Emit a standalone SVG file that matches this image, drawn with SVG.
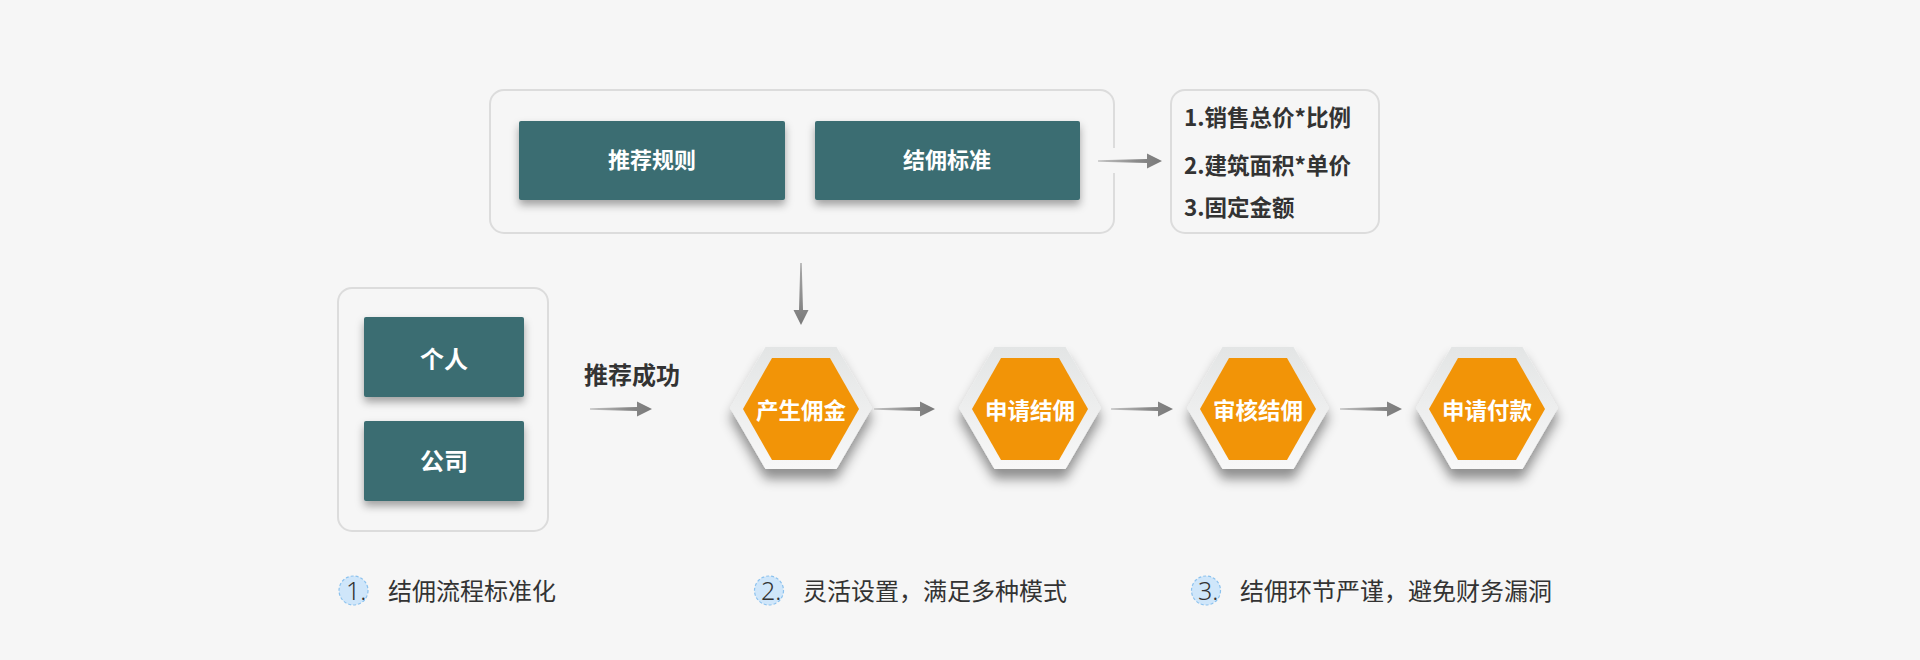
<svg xmlns="http://www.w3.org/2000/svg" width="1920" height="660" viewBox="0 0 1920 660">
<defs>
<style>
.frame{fill:none;stroke:#DCDCDC;stroke-width:2}
.teal{fill:#3A6D72}
.tlabel{font-family:"Noto Sans CJK SC","Liberation Sans",sans-serif;font-weight:bold;fill:#FFFFFF;text-anchor:middle}
.dark{font-family:"Noto Sans CJK SC","Liberation Sans",sans-serif;font-weight:bold;fill:#333333}
.note{font-family:"Noto Sans CJK SC","Liberation Sans",sans-serif;font-size:24px;fill:#333333}
.num{font-family:"Noto Sans","Liberation Sans",sans-serif;font-weight:300;font-size:25px;fill:#333333}
.badge{fill:#CFE6FA;stroke:#8CC2EE;stroke-width:1.2;stroke-dasharray:3 2}
.arrow{fill:url(#ag)}
.arrowv{fill:url(#agv)}
</style>
<linearGradient id="ag" x1="0" y1="0" x2="1" y2="0">
<stop offset="0" stop-color="#C4C4C4"/>
<stop offset="0.6" stop-color="#8A8A8A"/>
<stop offset="1" stop-color="#7A7A7A"/>
</linearGradient>
<linearGradient id="agv" x1="0" y1="0" x2="0" y2="1">
<stop offset="0" stop-color="#A8A8A8"/>
<stop offset="1" stop-color="#7A7A7A"/>
</linearGradient>
<linearGradient id="hg" x1="0" y1="0" x2="0" y2="1">
<stop offset="0" stop-color="#E3E5E5"/>
<stop offset="0.45" stop-color="#ECEDED"/>
<stop offset="1" stop-color="#F8F8F8"/>
</linearGradient>
<filter id="sh" x="-20%" y="-20%" width="140%" height="160%">
<feDropShadow dx="0" dy="5" stdDeviation="4" flood-color="#000" flood-opacity="0.35"/>
</filter>
<filter id="hsh" x="-30%" y="-30%" width="160%" height="170%">
<feDropShadow dx="0" dy="10" stdDeviation="6" flood-color="#000" flood-opacity="0.42"/>
</filter>
<polygon id="hexOuter" points="-71,0 -35.5,-61 35.5,-61 71,0 35.5,61 -35.5,61"/>
<polygon id="hexInner" points="-58,0 -29,-51 29,-51 58,0 29,51 -29,51"/>
</defs>

<rect width="1920" height="660" fill="#F6F6F6"/>

<g id="frames">
<rect class="frame" x="490" y="90" width="624" height="143" rx="14"/>
<rect x="1108" y="148" width="12" height="25" fill="#F6F6F6"/>
<rect class="frame" x="1171" y="90" width="208" height="143" rx="14"/>
<rect class="frame" x="338" y="288" width="210" height="243" rx="14"/>
</g>

<g id="node-rule">
<rect class="teal" x="519" y="121" width="266" height="79" rx="2" filter="url(#sh)"/>
<text class="tlabel" x="652" y="168" font-size="22">推荐规则</text>
</g>
<g id="node-standard">
<rect class="teal" x="815" y="121" width="265" height="79" rx="2" filter="url(#sh)"/>
<text class="tlabel" x="947" y="168" font-size="22">结佣标准</text>
</g>
<g id="node-methods">
<text class="dark" x="1184" y="126" font-size="22.5">1.销售总价*比例</text>
<text class="dark" x="1184" y="174" font-size="22.5">2.建筑面积*单价</text>
<text class="dark" x="1184" y="216" font-size="22.5">3.固定金额</text>
</g>
<g id="node-person">
<rect class="teal" x="364" y="317" width="160" height="80" rx="2" filter="url(#sh)"/>
<text class="tlabel" x="444" y="368" font-size="24">个人</text>
</g>
<g id="node-company">
<rect class="teal" x="364" y="421" width="160" height="80" rx="2" filter="url(#sh)"/>
<text class="tlabel" x="444" y="470" font-size="24">公司</text>
</g>
<g id="label-success">
<text class="dark" x="632" y="384" font-size="24" text-anchor="middle">推荐成功</text>
</g>

<g id="hex-1">
<use href="#hexOuter" transform="translate(801,408)" fill="url(#hg)" filter="url(#hsh)"/>
<use href="#hexInner" transform="translate(801,409)" fill="#F29407"/>
<text class="tlabel" x="801" y="419" font-size="22.5">产生佣金</text>
</g>
<g id="hex-2">
<use href="#hexOuter" transform="translate(1030,408)" fill="url(#hg)" filter="url(#hsh)"/>
<use href="#hexInner" transform="translate(1030,409)" fill="#F29407"/>
<text class="tlabel" x="1030" y="419" font-size="22.5">申请结佣</text>
</g>
<g id="hex-3">
<use href="#hexOuter" transform="translate(1258,408)" fill="url(#hg)" filter="url(#hsh)"/>
<use href="#hexInner" transform="translate(1258,409)" fill="#F29407"/>
<text class="tlabel" x="1258" y="419" font-size="22.5">审核结佣</text>
</g>
<g id="hex-4">
<use href="#hexOuter" transform="translate(1487,408)" fill="url(#hg)" filter="url(#hsh)"/>
<use href="#hexInner" transform="translate(1487,409)" fill="#F29407"/>
<text class="tlabel" x="1487" y="419" font-size="22.5">申请付款</text>
</g>

<g id="connectors">
<polygon class="arrow" points="1098,160.3 1147,159 1147,153.5 1162,161 1147,168.5 1147,163 1098,161.7"/>
<polygon class="arrowv" points="800.3,263 799,310 793.5,310 801,325 808.5,310 803,310 801.7,263"/>
<polygon class="arrow" points="590,408.3 637,407 637,401.5 652,409 637,416.5 637,411 590,409.7"/>
<polygon class="arrow" points="874,408.3 920,407 920,401.5 935,409 920,416.5 920,411 874,409.7"/>
<polygon class="arrow" points="1111,408.3 1158,407 1158,401.5 1173,409 1158,416.5 1158,411 1111,409.7"/>
<polygon class="arrow" points="1340,408.3 1387,407 1387,401.5 1402,409 1387,416.5 1387,411 1340,409.7"/>
</g>

<g id="notes">
<circle class="badge" cx="353.5" cy="590.5" r="14.5"/>
<text class="num" x="346" y="600">1.</text>
<text class="note" x="388" y="600">结佣流程标准化</text>
<circle class="badge" cx="769" cy="590.5" r="14.5"/>
<text class="num" x="761" y="600">2.</text>
<text class="note" x="803" y="600">灵活设置，满足多种模式</text>
<circle class="badge" cx="1206" cy="590.5" r="14.5"/>
<text class="num" x="1198" y="600">3.</text>
<text class="note" x="1240" y="600">结佣环节严谨，避免财务漏洞</text>
</g>
</svg>
